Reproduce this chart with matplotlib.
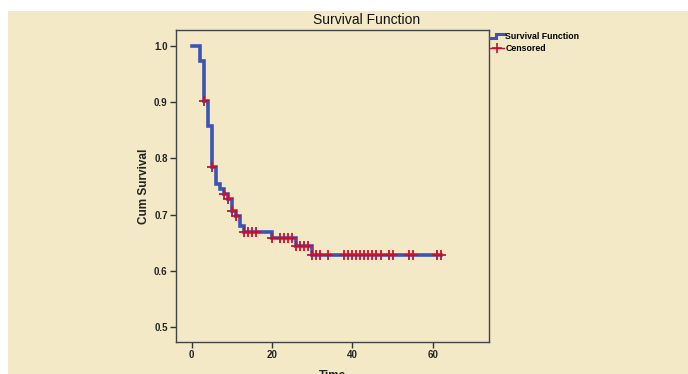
import matplotlib
matplotlib.use("Agg")
import matplotlib.pyplot as plt
import numpy as np
from matplotlib.lines import Line2D
from matplotlib.legend_handler import HandlerBase
from matplotlib.patches import Rectangle

# ---- data ----
event_times = [2, 3, 4, 5, 6, 7, 8, 9, 10, 11, 12, 13, 20, 26, 30]
surv_values = [0.973, 0.902, 0.857, 0.784, 0.754, 0.746, 0.736, 0.727,
               0.707, 0.698, 0.679, 0.668, 0.658, 0.644, 0.628]
censor_times = [3, 5, 8, 9, 10, 11, 13, 14, 15, 16, 20, 22, 23, 24, 25,
                26, 27, 28, 29, 30, 31, 32, 34, 38, 39, 40, 41, 42, 43,
                44, 45, 46, 47, 49, 50, 54, 55, 61, 62]
x_ticks = [0, 20, 40, 60]
y_ticks = [0.5, 0.6, 0.7, 0.8, 0.9, 1.0]

BG = "#f3e9c7"
BLUE = "#3a55b4"
RED = "#c8102e"
FONT = ["Liberation Sans", "DejaVu Sans"]
plt.rcParams['font.family'] = FONT

fig = plt.figure(figsize=(6.88, 3.74), dpi=100, facecolor="white")
fig.patches.append(Rectangle((8/688, 0), 1 - 8/688, (374 - 11)/374,
                             transform=fig.transFigure, facecolor=BG,
                             edgecolor="none", zorder=-10))

ax = fig.add_axes([176/688, 32/374, (489-176)/688, (342-30)/374])
ax.set_facecolor(BG)

# step curve
last_t = max(censor_times)
xs = [0] + event_times + [last_t]
ys = [1.0] + surv_values + [surv_values[-1]]
ax.step(xs, ys, where="post", color=BLUE, lw=2.6, solid_joinstyle="miter", zorder=2)

# censored marks at survival value at that time
et = np.array(event_times)
sv = np.array([1.0] + surv_values)
cidx = np.searchsorted(et, np.array(censor_times), side="right")
ax.plot(censor_times, sv[cidx], linestyle="none", marker="+", ms=7,
        mew=1.3, color=RED, zorder=3)

ax.set_xlim(-3.9, 74.0)
ax.set_ylim(0.473, 1.0285)
ax.set_xticks(x_ticks)
ax.set_yticks(y_ticks)
ax.set_yticklabels([f"{v:.1f}" for v in y_ticks])
for lab in ax.get_xticklabels() + ax.get_yticklabels():
    lab.set_fontweight("bold")
    lab.set_fontsize(7)
ax.tick_params(axis="both", direction="out", length=4, width=1, color="#333333",
               labelcolor="#222222", pad=2)
for s in ax.spines.values():
    s.set_color("#444444")
    s.set_linewidth(1.0)

fig.text(367/688, 1 - 20/374, "Survival Function", fontsize=10, color="#111111",
         ha="center", va="center")
ax.set_ylabel("Cum Survival", fontsize=8.5, fontweight="bold", color="#222222", labelpad=3)
ax.set_xlabel("Time", fontsize=8.5, fontweight="bold", color="#222222", labelpad=7)


class StepHandler(HandlerBase):
    def create_artists(self, legend, orig_handle, xdescent, ydescent,
                       width, height, fontsize, trans):
        x0 = -xdescent
        y0 = -ydescent
        xm = x0 + width * 0.45
        lxs = [x0, xm, xm, x0 + width]
        lys = [y0 + height * 0.1, y0 + height * 0.1, y0 + height * 0.8, y0 + height * 0.8]
        line = Line2D(lxs, lys, color=BLUE, lw=2.2, solid_joinstyle="miter")
        line.set_transform(trans)
        return [line]


h_surv = Line2D([], [], color=BLUE, lw=2.2)
h_cens = Line2D([], [], color=RED, lw=1.0, marker="+", ms=7, mew=1.2)
leg = fig.legend([h_surv, h_cens], ["Survival Function", "Censored"],
                 loc="upper left", bbox_to_anchor=(489/688, 343/374),
                 frameon=False, handlelength=1.6, handletextpad=0.15,
                 labelspacing=0.35, borderaxespad=0, borderpad=0.1,
                 handler_map={h_surv: StepHandler()},
                 prop={"family": FONT, "weight": "bold", "size": 6.3})

fig.savefig("out.png", dpi=100, facecolor="white")
